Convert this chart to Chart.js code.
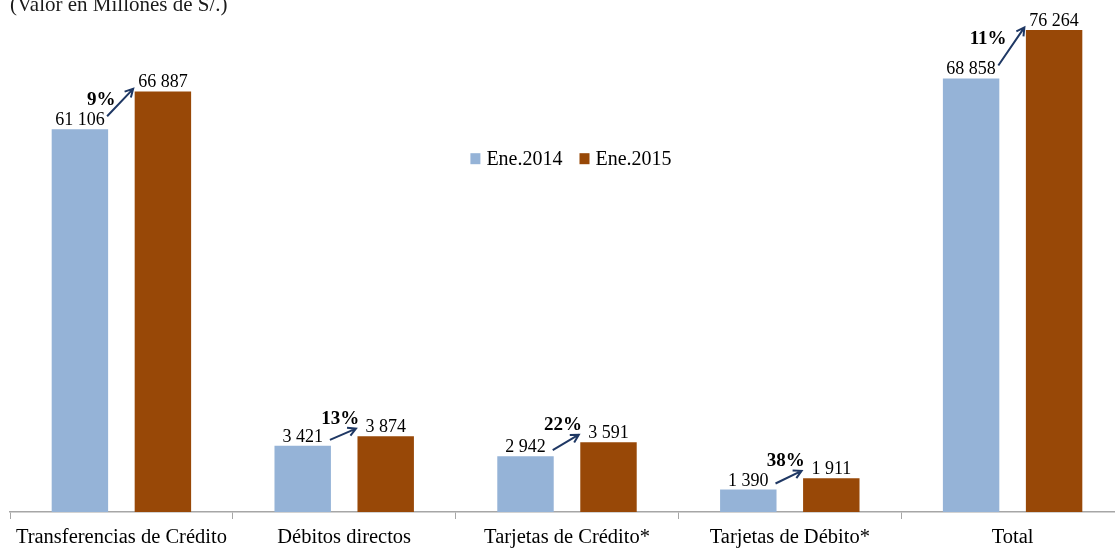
<!DOCTYPE html>
<html>
<head>
<meta charset="utf-8">
<script src="https://cdn.jsdelivr.net/npm/chart.js@4.4.1/dist/chart.umd.min.js"></script>
<style>
html, body { margin: 0; padding: 0; overflow: hidden; background: #fff; }
#wrap { width: 1124px; height: 548px; }
</style>
</head>
<body>
<div id="wrap"><canvas id="chart" width="1124" height="548"></canvas></div>
<script>
// data
const categories = ['Transferencias de Crédito', 'Débitos directos', 'Tarjetas de Crédito*', 'Tarjetas de Débito*', 'Total'];
const ene2014 = [61106, 3421, 2942, 1390, 68858];
const ene2015 = [66887, 3874, 3591, 1911, 76264];
const growth = [9, 13, 22, 38, 11];           // % shown next to the arrows
const onSecondAxis = [false, true, true, true, false];
const seriesNames = ['Ene.2014', 'Ene.2015'];

const colors = ['#95B3D7', '#984807'];
const serif = "'Liberation Serif', serif";

const fmt = v => String(v).replace(/\B(?=(\d{3})+(?!\d))/g, ' ');
const pick = (vals, second) => vals.map((v, i) => onSecondAxis[i] === second ? v : null);

const datasets = [];
[false, true].forEach(second => {
    [ene2014, ene2015].forEach((vals, s) => {
        datasets.push({
            label: seriesNames[s],
            data: pick(vals, second),
            yAxisID: second ? 'y2' : 'y',
            backgroundColor: colors[s],
            skipNull: true,
            categoryPercentage: 0.745,
            barPercentage: 0.68
        });
    });
});

// value labels, arrows and growth figures
const labelsPlugin = {
    id: 'labels',
    afterDatasetsDraw(chart) {
        const ctx = chart.ctx;
        ctx.save();
        ctx.fillStyle = '#000';
        ctx.font = '18px ' + serif;
        ctx.textAlign = 'center';
        ctx.textBaseline = 'alphabetic';
        chart.data.datasets.forEach((ds, di) => {
            chart.getDatasetMeta(di).data.forEach((bar, i) => {
                if (ds.data[i] == null) return;
                ctx.fillText(fmt(ds.data[i]), bar.x, bar.y - 4);
            });
        });

        categories.forEach((c, i) => {
            const second = onSecondAxis[i];
            const b1 = chart.getDatasetMeta(second ? 2 : 0).data[i];
            const b2 = chart.getDatasetMeta(second ? 3 : 1).data[i];
            const r1 = b1.x + b1.width / 2;
            const l2 = b2.x - b2.width / 2;
            const gap = (r1 + l2) / 2;
            const x0 = r1 - 1, y0 = b1.y - (second ? 6 : 13);
            const x1 = l2 - 1.5, y1 = b2.y - (second ? 7.5 : 2.5);

            ctx.strokeStyle = '#1F3864';
            ctx.lineWidth = 2;
            ctx.beginPath();
            ctx.moveTo(x0, y0);
            ctx.lineTo(x1, y1);
            const a = Math.atan2(y1 - y0, x1 - x0);
            ctx.moveTo(x1 - 9 * Math.cos(a - 0.5), y1 - 9 * Math.sin(a - 0.5));
            ctx.lineTo(x1, y1);
            ctx.lineTo(x1 - 9 * Math.cos(a + 0.5), y1 - 9 * Math.sin(a + 0.5));
            ctx.stroke();

            ctx.font = 'bold 19px ' + serif;
            ctx.textBaseline = 'middle';
            if (second) {
                ctx.textAlign = 'center';
                ctx.fillText(growth[i] + '%', gap - 4, b2.y - 17.5);
            } else {
                ctx.textAlign = 'right';
                ctx.fillText(growth[i] + '%', gap - 6, b2.y + 9);
            }
        });
        ctx.restore();
    }
};

// legend sits inside the plot area
const legendPlugin = {
    id: 'innerLegend',
    afterDraw(chart) {
        const ctx = chart.ctx;
        const area = chart.chartArea;
        ctx.save();
        ctx.font = '20px ' + serif;
        ctx.textBaseline = 'alphabetic';
        ctx.textAlign = 'left';
        const box = 10, gapBox = 6, gapItem = 17;
        const widths = seriesNames.map(n => ctx.measureText(n).width);
        const total = widths.reduce((s, w) => s + w + box + gapBox, 0) + gapItem;
        let x = (area.left + area.right) / 2 - total / 2 + 4;
        const yc = area.top + 140;
        seriesNames.forEach((n, s) => {
            ctx.fillStyle = colors[s];
            ctx.fillRect(x, yc - box / 2, box, box + 1);
            ctx.fillStyle = '#000';
            ctx.fillText(n, x + box + gapBox, yc + 6.5);
            x += box + gapBox + widths[s] + gapItem;
        });
        ctx.restore();
    }
};

new Chart(document.getElementById('chart'), {
    type: 'bar',
    data: { labels: categories, datasets: datasets },
    options: {
        responsive: false,
        animation: false,
        devicePixelRatio: 1,
        layout: { padding: { left: 10, right: 0, top: 0, bottom: 0 } },
        plugins: {
            legend: { display: false },
            tooltip: { enabled: false },
            title: {
                display: true,
                text: '(Valor en Millones de S/.)',
                align: 'start',
                color: '#1a1a1a',
                font: { family: serif, size: 21, weight: 'normal', lineHeight: 1.2 },
                padding: { top: -7, bottom: 0 }
            }
        },
        scales: {
            x: {
                grid: { drawOnChartArea: false, tickLength: 7, color: '#A6A6A6' },
                border: { color: '#A6A6A6', width: 1.5 },
                ticks: { color: '#000', padding: 6, font: { family: serif, size: 20.5 } },
                afterFit: s => { s.height = 36; }
            },
            y: { display: false, min: 2756, max: 78045 },
            y2: { display: false, position: 'right', min: 344, max: 23321 }
        }
    },
    plugins: [labelsPlugin, legendPlugin]
});
</script>
</body>
</html>
